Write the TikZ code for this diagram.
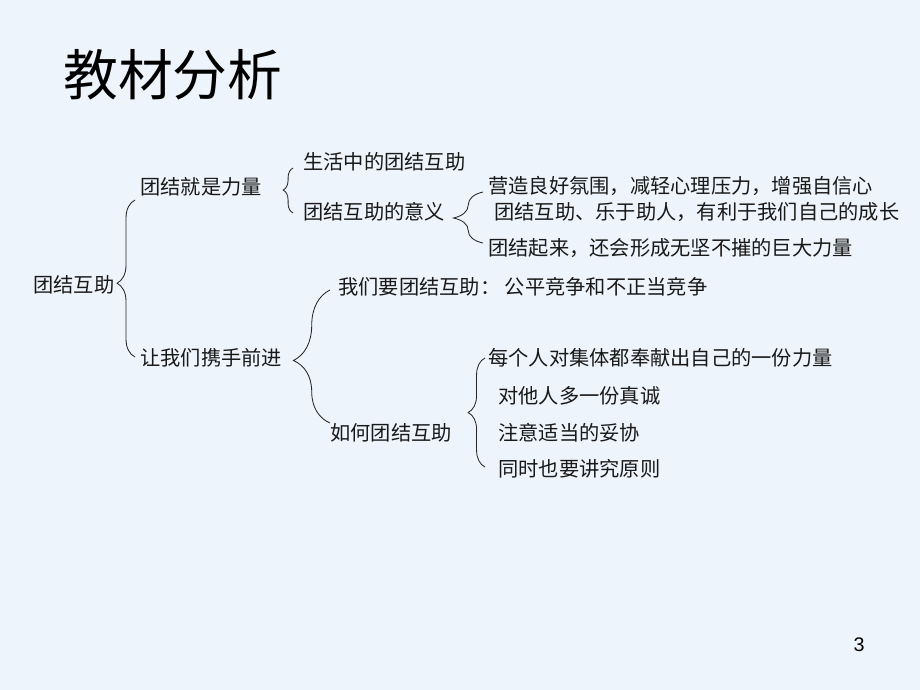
\documentclass[tikz,border=0pt]{standalone}
\usepackage{fontspec}
\newfontfamily\cjk{Noto Sans CJK SC}
\newfontfamily\numfont{Liberation Sans}
\usetikzlibrary{decorations.pathreplacing,positioning}
\definecolor{slidebg}{RGB}{238,244,252}
\tikzset{
  item/.style={anchor=west, inner sep=0pt, text=black!90, font=\cjk\fontsize{14.4}{17}\selectfont},
  heading/.style={anchor=west, inner sep=0pt, text=black, font=\cjk\fontsize{39}{44}\selectfont},
  brc/.style 2 args={decorate, decoration={brace, amplitude=#1, aspect=#2}, line width=0.6pt, black!85},
}

\begin{document}
\begin{tikzpicture}[x=0.025cm, y=-0.025cm]
% Background
\fill[slidebg] (0,0) rectangle (920,690);
\useasboundingbox (0,0) rectangle (920,690);

% Title
\node[heading] (title) at (63,75) {教材分析};

% Nodes
\node[item] (root) at (33,285) {团结互助};
\node[item] (power) at (140,187) {团结就是力量};
\node[item] (hands) at (140,358) {让我们携手前进};
\node[item] (life) at (303,162) {生活中的团结互助};
\node[item] (meaning) at (303,212) {团结互助的意义};
\node[item] (m1) at (488,186) {营造良好氛围，减轻心理压力，增强自信心};
\node[item] (m2) at (494,212) {团结互助、乐于助人，有利于我们自己的成长};
\node[item] (m3) at (488,248) {团结起来，还会形成无坚不摧的巨大力量};
\node[item] (need) at (338,287) {我们要团结互助： 公平竞争和不正当竞争};
\node[item] (how) at (330,433) {如何团结互助};
\node[item] (h1) at (488,358) {每个人对集体都奉献出自己的一份力量};
\node[item] (h2) at (498,396) {对他人多一份真诚};
\node[item] (h3) at (498,433) {注意适当的妥协};
\node[item] (h4) at (498,469) {同时也要讲究原则};

% Brace ends
\coordinate (rootbot) at (135,357);
\coordinate (roottop) at (135,200);
\coordinate (powerbot) at (293,213);
\coordinate (powertop) at (293,168);
\coordinate (meanbot) at (483,243);
\coordinate (meantop) at (483,192);
\coordinate (handsbot) at (330,423);
\coordinate (handstop) at (330,290);
\coordinate (howbot) at (485,467);
\coordinate (howtop) at (485,358);

% Braces
\draw[brc={12.8pt}{0.47}] (rootbot) -- (roottop);
\draw[brc={7pt}{0.51}] (powerbot) -- (powertop);
\draw[brc={21pt}{0.49}] (meanbot) -- (meantop);
\draw[brc={26pt}{0.47}] (handsbot) -- (handstop);
\draw[brc={12pt}{0.5}] (howbot) -- (howtop);

% Page number
\node[inner sep=0pt, font=\numfont\fontsize{14}{16}\selectfont] (page) at (859,645) {3};
\end{tikzpicture}
\end{document}
